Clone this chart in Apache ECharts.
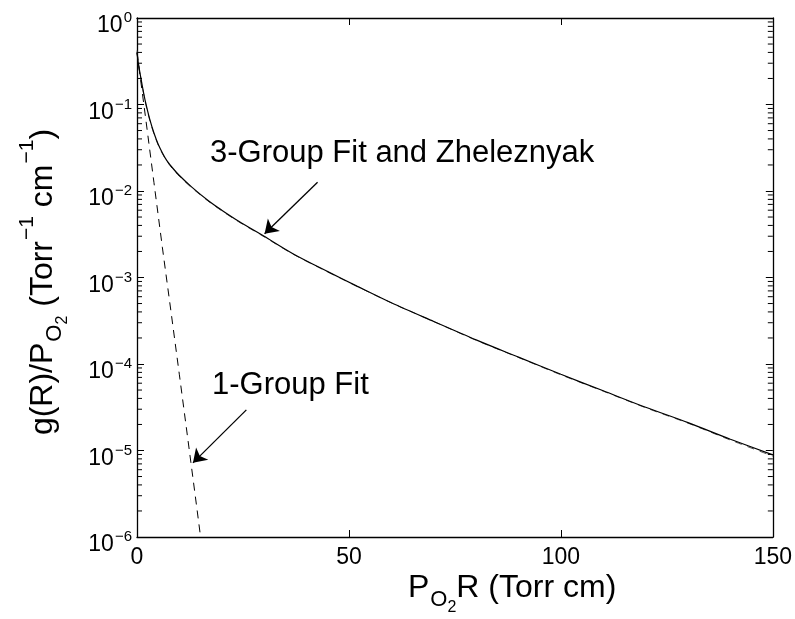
<!DOCTYPE html>
<html>
<head>
<meta charset="utf-8">
<script src="https://cdn.jsdelivr.net/npm/echarts@6/dist/echarts.min.js"></script>
<style>
html, body { margin: 0; padding: 0; background: #fff; }
#chart { width: 795px; height: 619px; }
</style>
</head>
<body>
<div id="chart"></div>
<script>
// 3-group fit (solid) and Zheleznyak (dashed, nearly on top of it)
var fitX = [0, 0.25, 0.5, 1, 1.5, 2, 3, 4, 5, 6, 7, 8.5, 10, 13, 17, 20, 24, 30, 37, 45, 52, 60, 70, 80, 90, 100, 110, 120, 130, 140, 150];
var fitY = [0.398, 0.316, 0.263, 0.191, 0.141, 0.107, 0.0676, 0.0468, 0.0347, 0.0275, 0.0226, 0.0182, 0.0151, 0.011, 0.0076, 0.006, 0.00447, 0.00299, 0.00186, 0.00117, 7.9e-4, 5.1e-4, 3.1e-4, 1.9e-4, 1.2e-4, 7.6e-5, 4.9e-5, 3.16e-5, 2.1e-5, 1.35e-5, 8.9e-6];
var zhelY = [0.42, 0.325, 0.265, 0.188, 0.138, 0.104, 0.066, 0.0458, 0.034, 0.027, 0.0222, 0.0178, 0.0148, 0.0108, 0.0075, 0.0059, 0.0044, 0.00295, 0.00184, 0.00116, 7.85e-4, 5.1e-4, 3.1e-4, 1.88e-4, 1.19e-4, 7.5e-5, 4.85e-5, 3.12e-5, 2.07e-5, 1.32e-5, 8.6e-6];

// 1-group fit (dashed)
var oneX = [0, 2, 4, 6, 8, 10, 12, 14, 15];
var oneY = [0.4, 0.072, 0.0125, 0.0022, 4.1e-4, 7.5e-5, 1.35e-5, 2.4e-6, 1.0e-6];

// axes
var xMin = 0, xMax = 150, xStep = 50;
var yMin = 1e-6, yMax = 1;
var decades = [1e-6, 1e-5, 1e-4, 1e-3, 1e-2, 1e-1];
var minorSteps = [2, 3, 4, 5, 6, 7, 8, 9];

// annotation arrows [x0, y0, x1, y1] in data units (tail -> head)
var arrowThree = [42.6, 0.0126, 30.1, 0.0032];
var arrowOne = [25.8, 2.95e-5, 13.2, 7.2e-6];

function zip(xs, ys) {
    var out = [];
    for (var i = 0; i < xs.length; i++) out.push([xs[i], ys[i]]);
    return out;
}

var minorTicks = [];
decades.forEach(function (d) {
    minorSteps.forEach(function (m) { minorTicks.push([(xMin + xMax) / 2, d * m]); });
});

var font = 'Liberation Sans, Arial, Helvetica, sans-serif';

// rich styles for titles: main text, superscript, subscript O, subscript 2
var titleRich = {
    n: { fontSize: 32, lineHeight: 32, padding: [10, 0, 0, 0], verticalAlign: 'top', fontFamily: font, color: '#000' },
    sup: { fontSize: 21, lineHeight: 21, padding: [0, 0, 0, 1], verticalAlign: 'top', fontFamily: font, color: '#000' },
    o: { fontSize: 22, lineHeight: 22, padding: [27, 0, 0, 1], verticalAlign: 'top', fontFamily: font, color: '#000' },
    two: { fontSize: 16, lineHeight: 16, padding: [38, 0, 0, 0], verticalAlign: 'top', fontFamily: font, color: '#000' }
};

function arrowLine(a) {
    return {
        silent: true,
        symbol: ['none', 'arrow'],
        symbolSize: 13,
        label: { show: false },
        lineStyle: { color: '#000', width: 1.3, type: 'solid' },
        itemStyle: { color: '#000' },
        emphasis: { disabled: true },
        animation: false,
        data: [[{ coord: [a[0], a[1]] }, { coord: [a[2], a[3]] }]]
    };
}

function tickLine(x1, y, x2) {
    return { type: 'line', shape: { x1: x1, y1: y, x2: x2, y2: y }, style: { stroke: '#000', lineWidth: 1 } };
}

var axisLine = { show: true, onZero: false, lineStyle: { color: '#000', width: 1.3 } };
var axisTick = { show: true, inside: true, length: 7, lineStyle: { color: '#000', width: 1 } };

var chart = echarts.init(document.getElementById('chart'));

var option = {
    backgroundColor: '#fff',
    animation: false,
    grid: { left: 137, right: 20, top: 18, bottom: 82, containLabel: false },
    xAxis: [{
        type: 'value', min: xMin, max: xMax, interval: xStep,
        axisLine: axisLine, axisTick: axisTick,
        axisLabel: { color: '#000', fontSize: 23, fontFamily: font, margin: 9 },
        splitLine: { show: false }
    }, {
        type: 'value', min: xMin, max: xMax, interval: xStep, position: 'top',
        axisLine: axisLine, axisTick: axisTick,
        axisLabel: { show: false },
        splitLine: { show: false }
    }],
    yAxis: [{
        type: 'log', logBase: 10, min: yMin, max: yMax, splitNumber: 6,
        axisLine: axisLine, axisTick: axisTick,
        axisLabel: {
            margin: 5,
            formatter: function (v) {
                var e = Math.round(Math.log10(v));
                return '{b|10}{s|' + (e < 0 ? '\u2212' + (-e) : e) + '}';
            },
            rich: {
                b: { fontSize: 23, lineHeight: 23, padding: [8, 0, 8, 0], verticalAlign: 'top', fontFamily: font, color: '#000' },
                s: { fontSize: 15, lineHeight: 15, padding: [4, 0, 0, 1], verticalAlign: 'top', fontFamily: font, color: '#000' }
            }
        },
        splitLine: { show: false }
    }, {
        type: 'log', logBase: 10, min: yMin, max: yMax, splitNumber: 6, position: 'right',
        axisLine: axisLine, axisTick: axisTick,
        axisLabel: { show: false },
        splitLine: { show: false }
    }],
    series: [{
        name: 'Zheleznyak',
        type: 'line',
        data: zip(fitX, zhelY),
        showSymbol: false, symbol: 'none', smooth: 0.3,
        lineStyle: { color: '#555', width: 1, type: [7, 6] },
        silent: true
    }, {
        name: '3-Group Fit',
        type: 'line',
        data: zip(fitX, fitY),
        showSymbol: false, symbol: 'none', smooth: 0.3,
        lineStyle: { color: '#000', width: 1.2 },
        silent: true,
        markLine: arrowLine(arrowThree)
    }, {
        name: '1-Group Fit',
        type: 'line',
        data: zip(oneX, oneY),
        showSymbol: false, symbol: 'none',
        lineStyle: { color: '#000', width: 1, type: [8, 6] },
        silent: true,
        markLine: arrowLine(arrowOne)
    }, {
        name: 'minor ticks',
        type: 'custom',
        data: minorTicks,
        z: 10,
        renderItem: function (params, api) {
            var v = api.value(1);
            var l = api.coord([xMin, v]);
            var r = api.coord([xMax, v]);
            return {
                type: 'group',
                children: [tickLine(l[0], l[1], l[0] + 5), tickLine(r[0] - 5, r[1], r[0])]
            };
        }
    }],
    graphic: [{
        type: 'text', left: 210, top: 138, silent: true,
        style: { text: '3-Group Fit and Zheleznyak', fontSize: 31, fontFamily: font, fill: '#000' }
    }, {
        type: 'text', left: 212, top: 370, silent: true,
        style: { text: '1-Group Fit', fontSize: 31, fontFamily: font, fill: '#000' }
    }, {
        type: 'text', left: 408, top: 562, silent: true,
        style: { text: '{n|P}{o|O}{two|2}{n|R (Torr cm)}', rich: titleRich }
    }, {
        type: 'text', x: 17, y: 282, rotation: Math.PI / 2, silent: true,
        style: {
            text: '{n|g(R)/P}{o|O}{two|2}{n| (Torr}{sup|\u22121}{n| cm}{sup|\u22121}{n|)}',
            rich: titleRich, align: 'center', verticalAlign: 'top'
        }
    }]
};

chart.setOption(option);
</script>
</body>
</html>
